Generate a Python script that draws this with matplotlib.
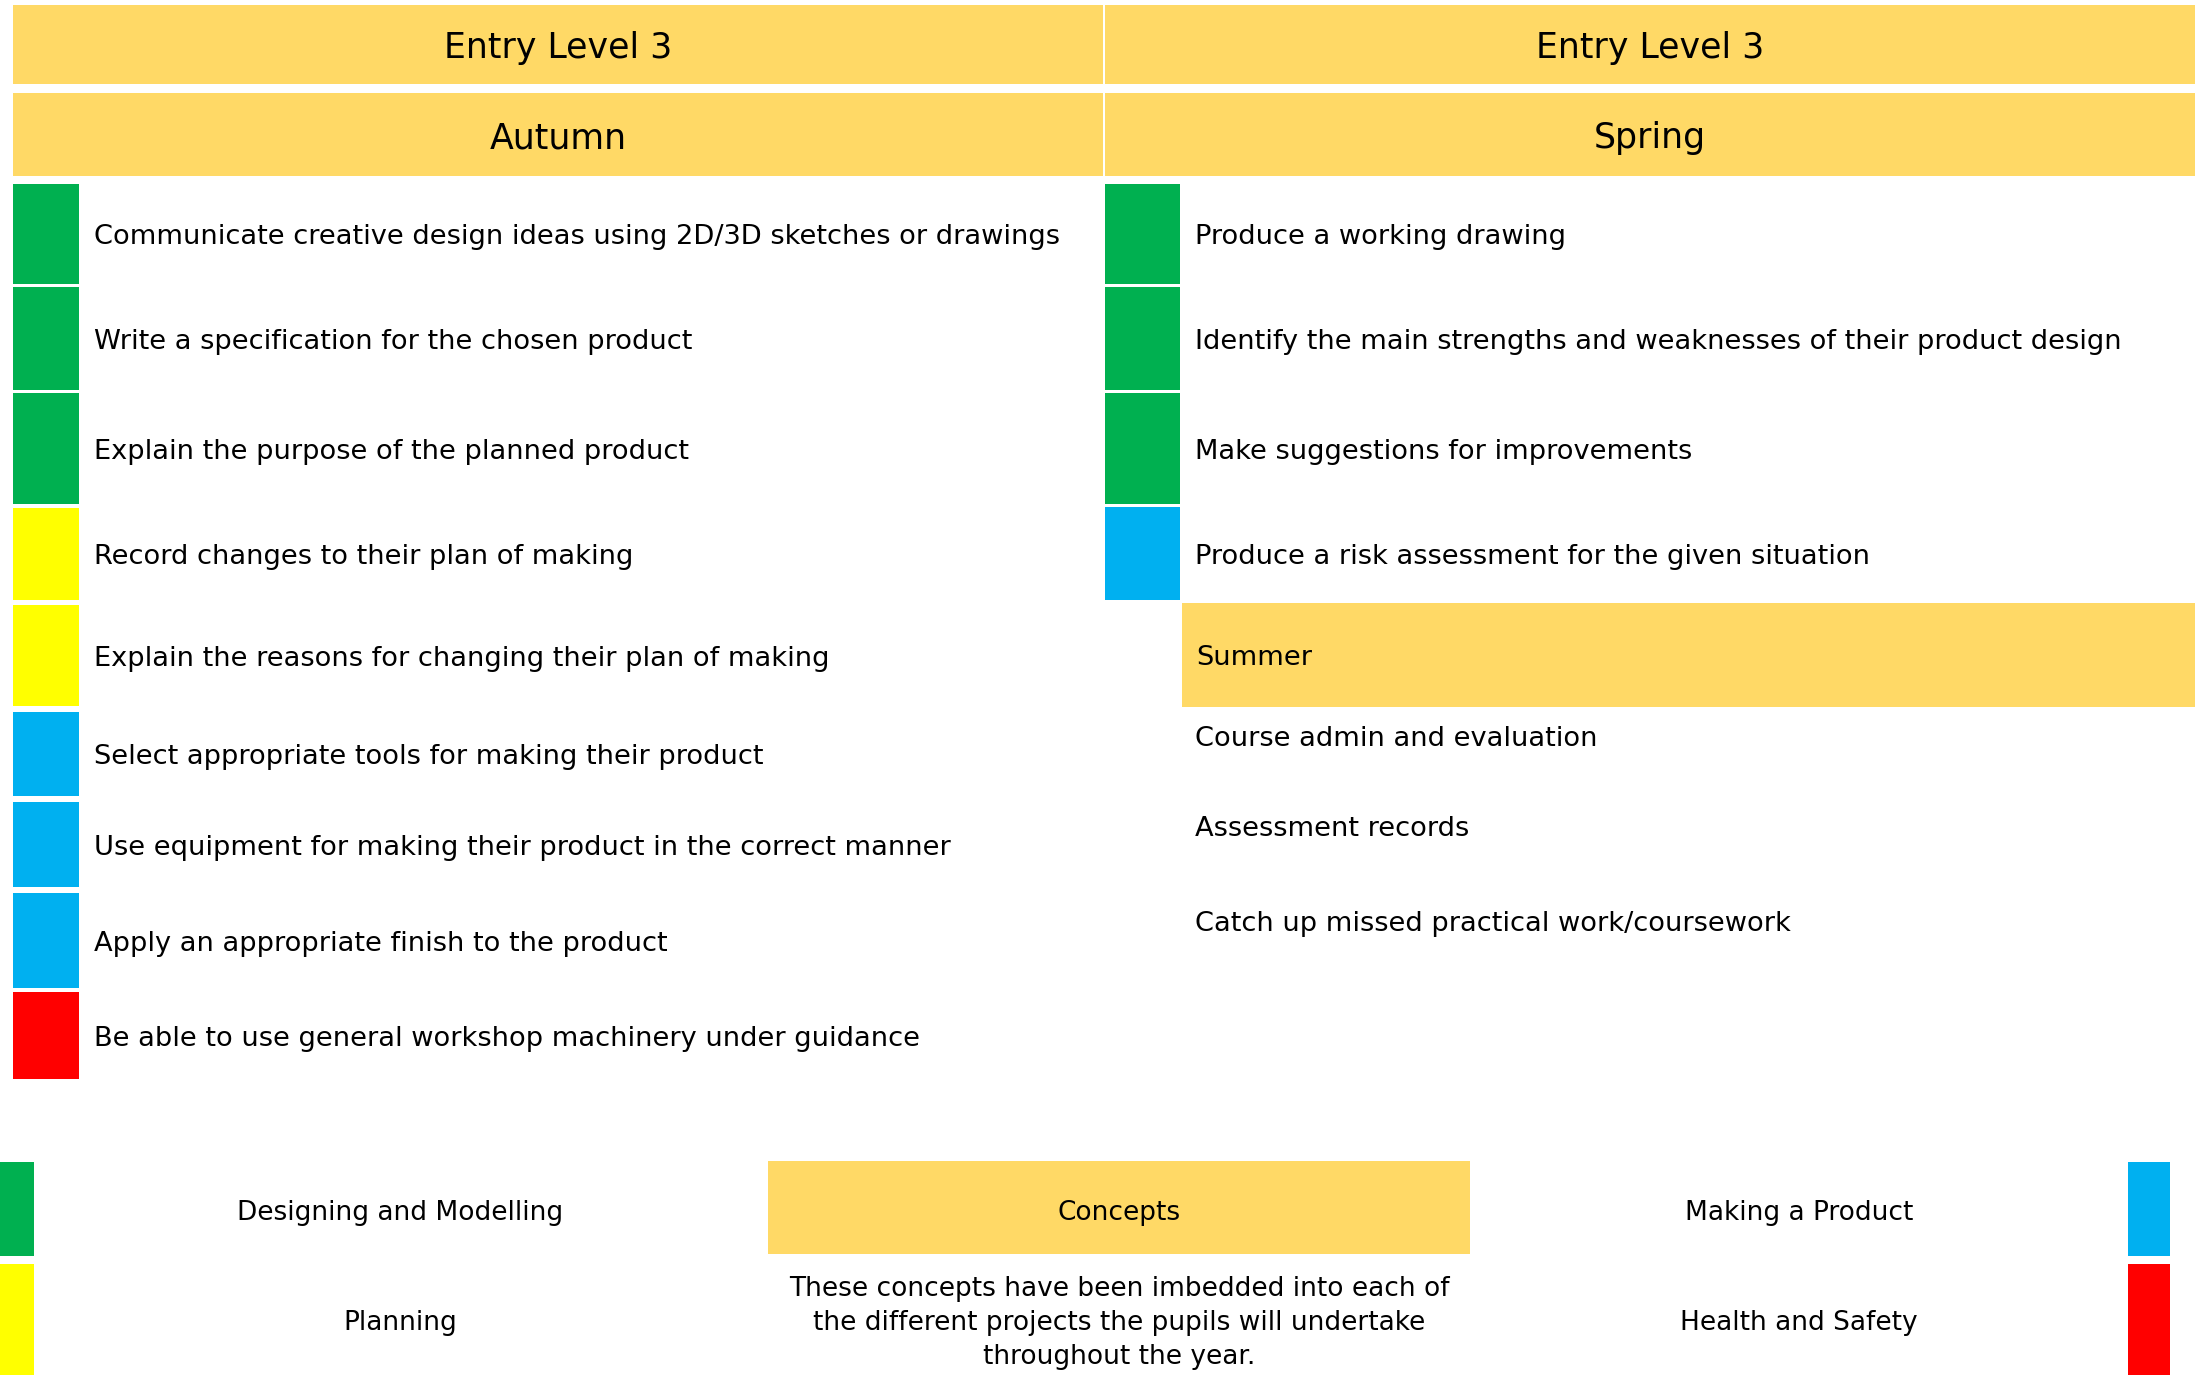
import matplotlib
matplotlib.use("Agg")
import matplotlib.pyplot as plt
from matplotlib.patches import Rectangle

# ── Content ───────────────────────────────────────────────────────────────────
level_title = "Entry Level 3"
term_titles = ["Autumn", "Spring"]

autumn_items = [
    "Communicate creative design ideas using 2D/3D sketches or drawings",
    "Write a specification for the chosen product",
    "Explain the purpose of the planned product",
    "Record changes to their plan of making",
    "Explain the reasons for changing their plan of making",
    "Select appropriate tools for making their product",
    "Use equipment for making their product in the correct manner",
    "Apply an appropriate finish to the product",
    "Be able to use general workshop machinery under guidance",
]
autumn_strands = ["design", "design", "design", "plan", "plan",
                  "make", "make", "make", "safety"]

spring_items = [
    "Produce a working drawing",
    "Identify the main strengths and weaknesses of their product design",
    "Make suggestions for improvements",
    "Produce a risk assessment for the given situation",
]
spring_strands = ["design", "design", "design", "make"]

summer_title = "Summer"
summer_items = [
    "Course admin and evaluation",
    "Assessment records",
    "Catch up missed practical work/coursework",
]

key_left = ["Designing and Modelling", "Planning"]
key_left_strands = ["design", "plan"]
key_right = ["Making a Product", "Health and Safety"]
key_right_strands = ["make", "safety"]
concepts_title = "Concepts"
concepts_text = ("These concepts have been imbedded into each of\n"
                 "the different projects the pupils will undertake\n"
                 "throughout the year.")

# ── Styles / layout (pixel units of a 2202x1375 canvas) ───────────────────────
strand_colors = {"design": "#00B050", "plan": "#FFFF00",
                 "make": "#00B0F0", "safety": "#FF0000"}
HEAD = "#FFD966"
FONT = "DejaVu Sans"
DY = 3  # nudge text down a touch
ITEM_FS = 19.6

W, H = 2202, 1375
left_x0, left_x1 = 13, 1103
right_x0, right_x1 = 1105, 2195
sw_w = 66

row_tops_left = [184, 287, 393, 508, 605, 712, 802, 893, 992]
row_bots_left = [284, 390, 504, 600, 706, 796, 887, 988, 1079]
row_tops_right = [184, 287, 393, 507]
row_bots_right = [284, 390, 504, 600]
summer_y = (603, 707)
summer_item_y = [736, 826, 921]

fig = plt.figure(figsize=(W / 100, H / 100), dpi=100)
ax = fig.add_axes([0, 0, 1, 1])
ax.set_xlim(0, W)
ax.set_ylim(H, 0)
ax.axis("off")


def box(x0, y0, x1, y1, color):
    ax.add_patch(Rectangle((x0, y0), x1 - x0, y1 - y0, facecolor=color,
                           edgecolor="none"))


# headers
for (x0, x1), term in zip([(left_x0, left_x1), (right_x0, right_x1)], term_titles):
    box(x0, 5, x1, 84, HEAD)
    box(x0, 93, x1, 176, HEAD)
    ax.text((x0 + x1) / 2, 45 + DY, level_title, ha="center", va="center",
            fontsize=25, family=FONT)
    ax.text((x0 + x1) / 2, 135 + DY, term, ha="center", va="center",
            fontsize=25, family=FONT)

# autumn rows
for top, bot, item, s in zip(row_tops_left, row_bots_left, autumn_items, autumn_strands):
    box(left_x0, top, left_x0 + sw_w, bot, strand_colors[s])
    ax.text(94, (top + bot) / 2 + DY, item, ha="left", va="center",
            fontsize=ITEM_FS, family=FONT)

# spring rows
for top, bot, item, s in zip(row_tops_right, row_bots_right, spring_items, spring_strands):
    box(right_x0, top, right_x0 + 75, bot, strand_colors[s])
    ax.text(1195, (top + bot) / 2 + DY, item, ha="left", va="center",
            fontsize=ITEM_FS, family=FONT)

# summer
box(1182, summer_y[0], right_x1, summer_y[1], HEAD)
ax.text(1196, sum(summer_y) / 2 + DY, summer_title, ha="left", va="center",
        fontsize=ITEM_FS, family=FONT)
for y, item in zip(summer_item_y, summer_items):
    ax.text(1195, y + DY, item, ha="left", va="center", fontsize=ITEM_FS, family=FONT)

# key
key_rows = [(1162, 1256), (1264, 1375)]
key_text_y = [1210, 1320]
for (top, bot), ty, lbl, s in zip(key_rows, key_text_y, key_left, key_left_strands):
    box(0, top, 34, bot, strand_colors[s])
    ax.text(400, ty + DY, lbl, ha="center", va="center", fontsize=19, family=FONT)
for (top, bot), ty, lbl, s in zip(key_rows, key_text_y, key_right, key_right_strands):
    box(2128, top, 2170, bot, strand_colors[s])
    ax.text(1799, ty + DY, lbl, ha="center", va="center", fontsize=19, family=FONT)

box(768, 1161, 1470, 1254, HEAD)
ax.text(1119, 1210 + DY, concepts_title, ha="center", va="center",
        fontsize=19, family=FONT)
ax.text(1119, 1320 + DY, concepts_text, ha="center", va="center",
        fontsize=19, family=FONT, linespacing=1.4)

fig.savefig("out.png", dpi=100)
